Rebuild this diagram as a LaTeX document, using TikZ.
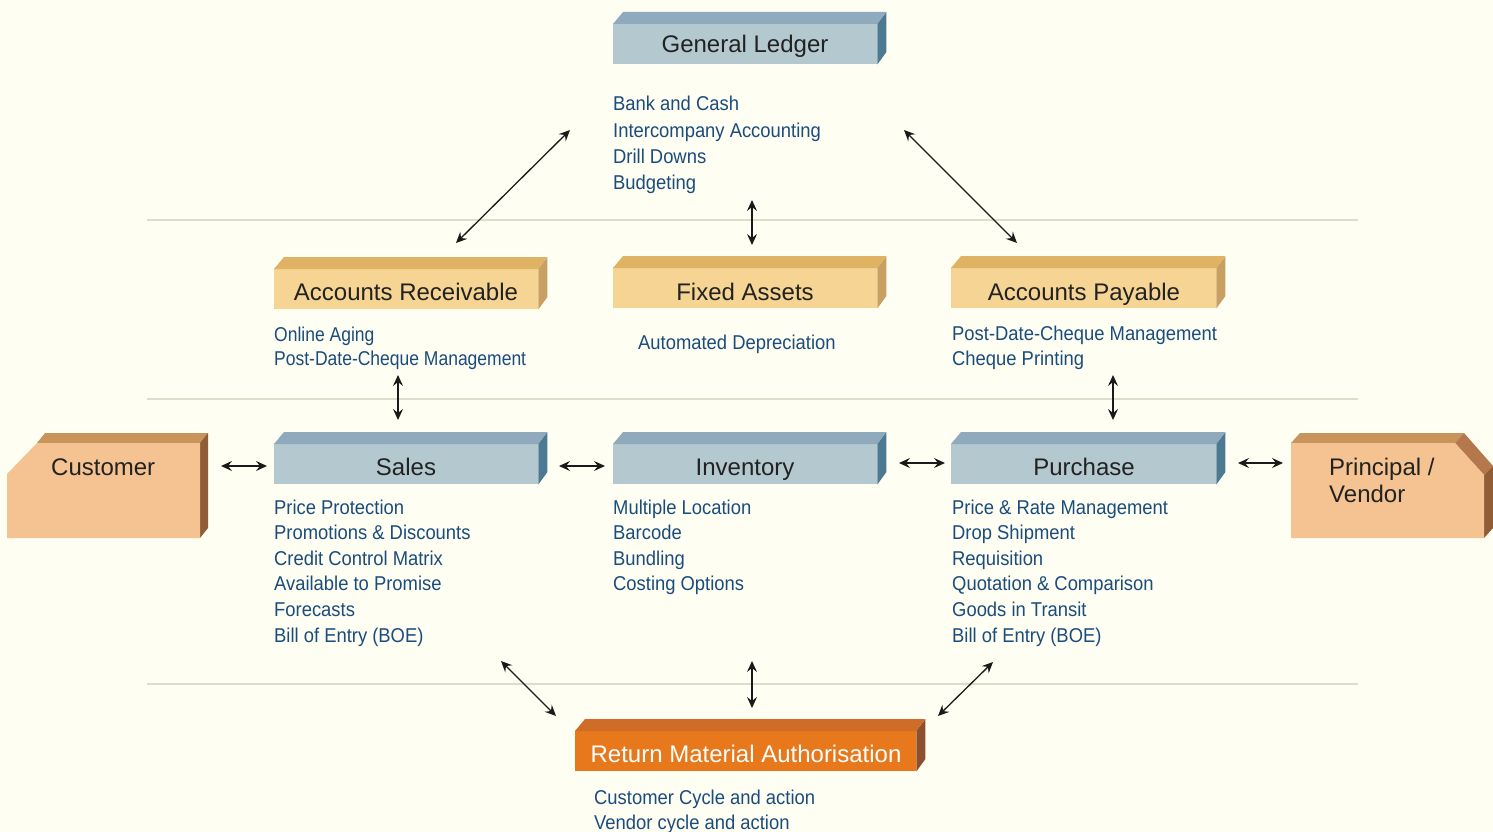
\documentclass[tikz,border=0pt]{standalone}
\usepackage{fontspec}
\setmainfont{Liberation Sans}
\newfontfamily\narrowfont[FakeStretch=0.92]{Liberation Sans}
\newfontfamily\narrowerfont[FakeStretch=0.875]{Liberation Sans}
\usetikzlibrary{arrows.meta}
\definecolor{bg}{HTML}{FFFEF2}
\definecolor{sepc}{HTML}{DEDDCB}
\definecolor{txtblue}{HTML}{1A4C7C}
\definecolor{lbldark}{HTML}{222222}
\definecolor{arrowc}{HTML}{1A1A1A}
\definecolor{bluefront}{HTML}{B4C8D0}
\definecolor{bluetop}{HTML}{8FAABD}
\definecolor{blueright}{HTML}{4C7A93}
\definecolor{yelfront}{HTML}{F5D494}
\definecolor{yeltop}{HTML}{DFB264}
\definecolor{yelright}{HTML}{C9A062}
\definecolor{orgfront}{HTML}{E8781C}
\definecolor{orgtop}{HTML}{CF6C28}
\definecolor{orgright}{HTML}{8E4F2E}
\definecolor{custfront}{HTML}{F5C391}
\definecolor{custtop}{HTML}{C9945C}
\definecolor{custright}{HTML}{905D37}
\definecolor{custcham}{HTML}{B5774C}
\newcommand\threedbox[6]{%
  \node[fill=#6front, inner sep=0pt, minimum width={#4-#2}, minimum height={#5-#3}, anchor=north west] (#1) at (#2,#3) {};
  \fill[#6top] (#1.north west) -- ++(10,-12) -- ++({#4-#2-1},0) -- (#1.north east) -- cycle;
  \fill[#6right] (#1.north east) -- ++(9,-12) -- ++(0,{#5-#3}) -- (#1.south east) -- cycle;
}
\begin{document}
\begin{tikzpicture}[x=1pt,y=-1pt,
  listtext/.style={anchor=base west, inner sep=0pt, text=txtblue, font=\narrowfont\fontsize{20}{24}\selectfont},
  lbl/.style={anchor=base, inner sep=0pt, text=lbldark, font=\fontsize{24}{28}\selectfont},
  conn/.style={{Stealth[length=11pt,width=10pt,inset=4pt]}-{Stealth[length=11pt,width=10pt,inset=4pt]}, line width=1.3pt, draw=arrowc},
  sepline/.style={draw=sepc, line width=1.5pt}]
\useasboundingbox (0,0) rectangle (1493,832);
\fill[bg] (0,0) rectangle (1493,832);
% separators
\draw[sepline] (147,220) -- (1358,220);
\draw[sepline] (147,399) -- (1358,399);
\draw[sepline] (147,684) -- (1358,684);
% boxes
\threedbox{gl}{613}{24}{877}{64}{blue}
\threedbox{ar}{274}{269}{538}{309}{yel}
\threedbox{fa}{613}{268}{877}{308}{yel}
\threedbox{ap}{951}{268}{1216}{308}{yel}
\threedbox{sa}{274}{444}{538}{484}{blue}
\threedbox{inv}{613}{444}{877}{484}{blue}
\threedbox{pu}{951}{444}{1216}{484}{blue}
\threedbox{rma}{575}{731}{916}{771}{org}
% customer
\fill[custtop] (37,443) -- (45,433) -- (208,433) -- (200,443) -- cycle;
\fill[custright] (200,443) -- (208,433) -- (208,528) -- (200,538) -- cycle;
\fill[custfront] (7,474) -- (37,443) -- (200,443) -- (200,538) -- (7,538) -- cycle;
% principal / vendor
\fill[custtop] (1291,443) -- (1300,433) -- (1464,433) -- (1455,443) -- cycle;
\fill[custcham] (1455,443) -- (1464,433) -- (1493,466) -- (1484,475) -- cycle;
\fill[custright] (1484,475) -- (1493,466) -- (1493,528) -- (1484,538) -- cycle;
\fill[custfront] (1291,443) -- (1455,443) -- (1484,475) -- (1484,538) -- (1291,538) -- cycle;
% labels
\node[lbl] (glt) at (745,53) {General Ledger};
\node[lbl] (art) at (406,300) {Accounts Receivable};
\node[lbl] (fat) at (745,300) {Fixed Assets};
\node[lbl] (apt) at (1084,300) {Accounts Payable};
\node[lbl] (sat) at (406,475) {Sales};
\node[lbl] (invt) at (745,475) {Inventory};
\node[lbl] (put) at (1084,475) {Purchase};
\node[lbl, text=white] (rmat) at (746,762) {Return Material Authorisation};
\node[lbl, anchor=base west] (cust) at (51,475) {Customer};
\node[lbl, anchor=base west] (ven1) at (1329,475) {Principal /};
\node[lbl, anchor=base west] (ven2) at (1329,502) {Vendor};
% lists
\foreach \t [count=\i] in {Bank and Cash, Intercompany Accounting, Drill Downs, Budgeting}
  {\node[listtext] (gll\i) at (613,{111+26*(\i-1)}) {\t};}
\foreach \t [count=\i] in {Online Aging, Post-Date-Cheque Management}
  {\node[listtext, font=\narrowerfont\fontsize{20}{24}\selectfont] (arl\i) at (274,{341+24*(\i-1)}) {\t};}
\node[listtext] (fal1) at (638,349) {Automated Depreciation};
\foreach \t [count=\i] in {Post-Date-Cheque Management, Cheque Printing}
  {\node[listtext] (apl\i) at (952,{340+25*(\i-1)}) {\t};}
\foreach \t [count=\i] in {Price Protection, Promotions \& Discounts, Credit Control Matrix, Available to Promise, Forecasts, Bill of Entry (BOE)}
  {\node[listtext] (sal\i) at (274,{514+25.6*(\i-1)}) {\t};}
\foreach \t [count=\i] in {Multiple Location, Barcode, Bundling, Costing Options}
  {\node[listtext] (invl\i) at (613,{514+25.6*(\i-1)}) {\t};}
\foreach \t [count=\i] in {Price \& Rate Management, Drop Shipment, Requisition, Quotation \& Comparison, Goods in Transit, Bill of Entry (BOE)}
  {\node[listtext] (pul\i) at (952,{514+25.6*(\i-1)}) {\t};}
\foreach \t [count=\i] in {Customer Cycle and action, Vendor cycle and action}
  {\node[listtext] (rmal\i) at (594,{804+25*(\i-1)}) {\t};}
% connector end points
\coordinate (c1a) at (570,130); \coordinate (c1b) at (456,243);
\coordinate (c2a) at (752,200); \coordinate (c2b) at (752,245);
\coordinate (c3a) at (904,130); \coordinate (c3b) at (1017,243);
\coordinate (c4a) at (398,375); \coordinate (c4b) at (398,420);
\coordinate (c5a) at (1113,375); \coordinate (c5b) at (1113,420);
\coordinate (c6a) at (221,466); \coordinate (c6b) at (267,466);
\coordinate (c7a) at (559,466); \coordinate (c7b) at (605,466);
\coordinate (c8a) at (899,463); \coordinate (c8b) at (945,463);
\coordinate (c9a) at (1238,463); \coordinate (c9b) at (1283,463);
\coordinate (c10a) at (501,661); \coordinate (c10b) at (556,716);
\coordinate (c11a) at (752,661); \coordinate (c11b) at (752,708);
\coordinate (c12a) at (993,662); \coordinate (c12b) at (938,716);
\foreach \k in {1,...,12} {\draw[conn] (c\k a) -- (c\k b);}
\end{tikzpicture}
\end{document}
